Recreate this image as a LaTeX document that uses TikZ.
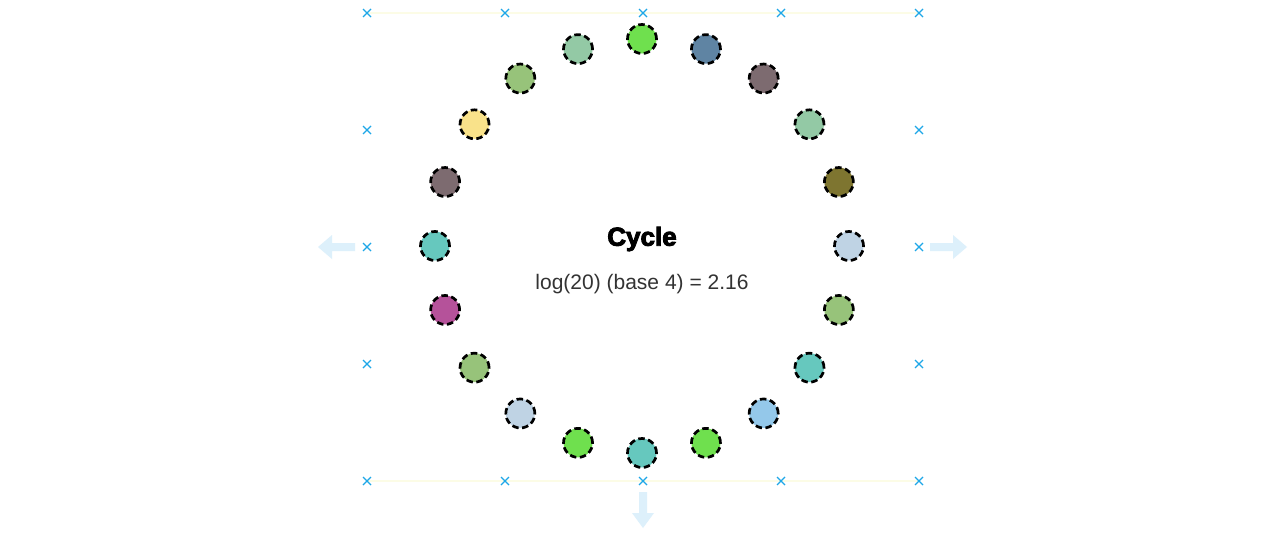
\documentclass[tikz,border=0pt]{standalone}
\usepackage{fontspec}
\setmainfont{Liberation Sans}
\newfontfamily\heavyfont[FakeBold=3.5]{Liberation Sans Bold}
\usetikzlibrary{calc}
\definecolor{cA}{HTML}{6FE04E}
\definecolor{cB}{HTML}{5F84A3}
\definecolor{cC}{HTML}{7D6B70}
\definecolor{cD}{HTML}{93C9A5}
\definecolor{cE}{HTML}{7E7530}
\definecolor{cF}{HTML}{BFD3E4}
\definecolor{cG}{HTML}{97C37A}
\definecolor{cH}{HTML}{66C8BE}
\definecolor{cI}{HTML}{94C8EA}
\definecolor{cJ}{HTML}{B5529A}
\definecolor{cK}{HTML}{F9E28A}
\definecolor{xmark}{HTML}{1EA7E8}
\definecolor{arr}{HTML}{DDF0FB}
\definecolor{guide}{HTML}{FCFCE6}
\tikzset{
  dot/.style={circle, minimum size=29pt, inner sep=0pt, draw=black, line width=2.7pt, dash pattern=on 6.5pt off 3.5pt},
  xm/.style={xmark, line width=1.3pt},
  bigarrow/.style={fill=arr, draw=none},
  title/.style={font=\fontsize{26}{28}\selectfont\heavyfont},
  sub/.style={font=\fontsize{21}{23}\selectfont, text=black!80}
}
\begin{document}
\begin{tikzpicture}[x=1pt,y=-1pt]
\useasboundingbox (0,0) rectangle (1280,533);
\fill[white] (0,0) rectangle (1280,533);
% guide lines
\coordinate (gtl) at (367,13);
\coordinate (gtr) at (919,13);
\coordinate (gbl) at (367,481);
\coordinate (gbr) at (919,481);
\draw[guide, line width=1.5pt] (gtl) -- (gtr);
\draw[guide, line width=1.5pt] (gbl) -- (gbr);
% x marks
\foreach \px/\py in {367/13,505/13,643/13,781/13,919/13,367/130,919/130,367/247,919/247,367/364,919/364,367/481,505/481,643/481,781/481,919/481}{
  \draw[xm] (\px-4,\py-4) -- (\px+4,\py+4) (\px-4,\py+4) -- (\px+4,\py-4);
}
% arrows
\fill[bigarrow] (355,243) -- (332,243) -- (332,235) -- (318,247) -- (332,259) -- (332,251) -- (355,251) -- cycle;
\fill[bigarrow] (930,243) -- (953,243) -- (953,235) -- (967,247) -- (953,259) -- (953,251) -- (930,251) -- cycle;
\fill[bigarrow] (639,492) -- (639,513) -- (632,513) -- (643,528) -- (654,513) -- (647,513) -- (647,492) -- cycle;
% circles
\foreach \i/\c in {0/cA,1/cB,2/cC,3/cD,4/cE,5/cF,6/cG,7/cH,8/cI,9/cA,10/cH,11/cA,12/cF,13/cG,14/cJ,15/cH,16/cC,17/cK,18/cG,19/cD}{
  \node[dot, fill=\c] (n\i) at ({642+207*cos(90-18*\i)},{246-207*sin(90-18*\i)}) {};
}
% text
\node[title] (t) at (642,239) {Cycle};
\node[sub] (s) at (642,284) {log(20) (base 4) = 2.16};
\end{tikzpicture}
\end{document}
